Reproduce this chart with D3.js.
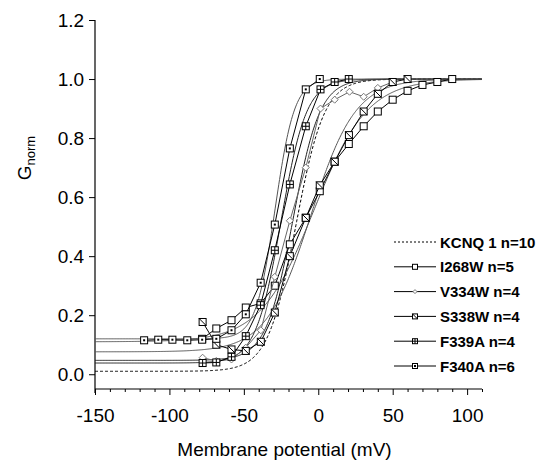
<!DOCTYPE html>
<html>
<head>
<meta charset="utf-8">
<script src="https://cdn.jsdelivr.net/npm/d3@7"></script>
<style>
  body { margin: 0; background: #fff; }
  text { font-family: "Liberation Sans", Arial, sans-serif; }
</style>
</head>
<body>
<script>
// conductance-voltage data
var names = ['KCNQ 1 n=10', 'I268W n=5', 'V334W n=4', 'S338W n=4', 'F339A n=4', 'F340A n=6'];
var markers = ['none', 'square', 'diamond', 'diag', 'cross', 'dot'];

var i268wV = [-78, -68.5, -58.3, -48.7, -38.7, -29.2, -19.1, -8.4, 1, 11, 20.5, 30.5, 40, 50, 60, 70, 80, 90];
var i268wG = [0.12, 0.155, 0.183, 0.226, 0.24, 0.30, 0.44, 0.53, 0.62, 0.72, 0.78, 0.84, 0.89, 0.93, 0.96, 0.98, 0.99, 1.0];
var v334wV = [-77.7, -68.5, -58.3, -48.7, -38.6, -29.2, -19.1, -8.4, 1.5, 11, 21, 30.5, 40, 50];
var v334wG = [0.056, 0.045, 0.05, 0.09, 0.149, 0.33, 0.52, 0.70, 0.90, 0.93, 0.957, 0.94, 0.97, 0.99];
var s338wV = [-77.7, -68.5, -58.3, -48.7, -38.6, -29.2, -19.1, -8.4, 1, 11, 20.6, 30.5, 40, 50, 60];
var s338wG = [0.177, 0.10, 0.084, 0.079, 0.11, 0.209, 0.40, 0.53, 0.64, 0.72, 0.81, 0.89, 0.95, 0.99, 1.0];
var f339aV = [-77.7, -68.5, -58.3, -48.7, -38.8, -29.2, -19.1, -8.4, 1.5, 11, 20.5];
var f339aG = [0.038, 0.04, 0.059, 0.129, 0.234, 0.42, 0.643, 0.84, 0.965, 0.99, 1.0];
var f340aV = [-117, -107.5, -98, -88, -78, -68.5, -58.3, -48.7, -38.7, -29.2, -19.1, -8.4, 1];
var f340aG = [0.115, 0.117, 0.117, 0.115, 0.117, 0.12, 0.149, 0.203, 0.31, 0.507, 0.765, 0.965, 1.0];

// Boltzmann fit parameters (bottom, top, V1/2, slope) per series, same order as names
var fitBottom = [0.01, 0.11, 0.047, 0.076, 0.038, 0.12];
var fitTop = [1.0, 1.0, 1.0, 1.0, 1.0, 1.0];
var fitHalf = [-15, -3, -17, -5, -25, -29];
var fitSlope = [9.5, 18, 9, 15, 8.5, 6.5];

var xTicks = [-150, -100, -50, 0, 50, 100];
var yTicks = [0, 0.2, 0.4, 0.6, 0.8, 1.0, 1.2];

var pts = [
  [],
  d3.zip(i268wV, i268wG),
  d3.zip(v334wV, v334wG),
  d3.zip(s338wV, s338wG),
  d3.zip(f339aV, f339aG),
  d3.zip(f340aV, f340aG)
];

var W = 552, H = 470;
var x0 = 95, x1 = 482, yTop = 20, yBot = 389;

var x = d3.scaleLinear().domain([-150, 110]).range([x0, x1]);
var y = d3.scaleLinear().domain([-0.05, 1.2]).range([yBot, yTop]);

var svg = d3.select('body').append('svg')
    .attr('width', W)
    .attr('height', H);

svg.append('rect').attr('width', W).attr('height', H).attr('fill', '#fff');

// axes
var xAxis = d3.axisBottom(x).tickValues(xTicks).tickSize(6).tickFormat(function (d) { return String(d); });
var xMinor = d3.axisBottom(x).tickValues(d3.range(-140, 111, 10).filter(function (d) { return d % 50 !== 0; }))
    .tickSize(3).tickFormat('');
var yAxis = d3.axisLeft(y).tickValues(yTicks).tickSize(6).tickFormat(d3.format('.1f'));

var gx = svg.append('g').attr('transform', 'translate(0,' + yBot + ')').call(xAxis);
svg.append('g').attr('transform', 'translate(0,' + yBot + ')').call(xMinor)
    .call(function (g) { g.select('.domain').remove(); });
var gy = svg.append('g').attr('transform', 'translate(' + x0 + ',0)').call(yAxis);

svg.selectAll('.domain').attr('stroke', '#000').attr('stroke-width', 1.2);
svg.selectAll('.tick line').attr('stroke', '#000');
gx.selectAll('.domain').attr('d', 'M' + x0 + ',0H' + x1);
gy.selectAll('.domain').attr('d', 'M0,' + (yBot + 4) + 'V' + yTop);
gx.selectAll('text').attr('font-size', 19).attr('dy', '1.25em').attr('fill', '#000');
gy.selectAll('text').attr('font-size', 19).attr('dx', '-0.1em').attr('fill', '#000');

// axis titles
svg.append('text')
    .attr('x', (x0 + x1) / 2 - 4).attr('y', 456)
    .attr('text-anchor', 'middle').attr('font-size', 19)
    .text('Membrane potential (mV)');

var yl = svg.append('text')
    .attr('transform', 'translate(31,158) rotate(-90)')
    .attr('text-anchor', 'middle').attr('font-size', 19);
yl.append('tspan').text('G');
yl.append('tspan').attr('font-size', 13).attr('dy', 4).text('norm');

// fit curves
var plot = svg.append('g');
var line = d3.line().x(function (d) { return x(d[0]); }).y(function (d) { return y(d[1]); });
var grid = d3.range(-150, 110.5, 0.5);

names.forEach(function (n, i) {
  var curve = grid.map(function (v) {
    return [v, fitBottom[i] + (fitTop[i] - fitBottom[i]) / (1 + Math.exp((fitHalf[i] - v) / fitSlope[i]))];
  });
  plot.append('path')
      .attr('d', line(curve))
      .attr('fill', 'none')
      .attr('stroke', i === 0 ? '#000' : (i % 2 ? '#555' : '#222'))
      .attr('stroke-width', 1)
      .attr('stroke-dasharray', i === 0 ? '3,2' : null);
});

// data lines and symbols
function drawMarker(g, type, size, grey) {
  var h = size / 2;
  var col = grey ? '#777' : '#000';
  if (type === 'diamond') {
    g.append('path').attr('d', 'M0,' + (-h) + 'L' + h + ',0L0,' + h + 'L' + (-h) + ',0Z')
        .attr('fill', '#fff').attr('stroke', col).attr('stroke-width', 1);
    return;
  }
  g.append('rect').attr('x', -h).attr('y', -h).attr('width', size).attr('height', size)
      .attr('fill', '#fff').attr('stroke', col).attr('stroke-width', 1);
  if (type === 'dot') {
    g.append('rect').attr('x', -1).attr('y', -1).attr('width', 2).attr('height', 2).attr('fill', '#000');
  } else if (type === 'cross') {
    g.append('path').attr('d', 'M0,' + (-h) + 'V' + h + 'M' + (-h) + ',0H' + h)
        .attr('stroke', col).attr('stroke-width', 1);
  } else if (type === 'diag') {
    g.append('path').attr('d', 'M' + (-h) + ',' + (-h) + 'L' + h + ',' + h)
        .attr('stroke', col).attr('stroke-width', 1);
  }
}

pts.forEach(function (p, i) {
  if (!p.length) return;
  plot.append('path')
      .attr('d', line(p))
      .attr('fill', 'none')
      .attr('stroke', i === 2 ? '#666' : '#000')
      .attr('stroke-width', 1);
  plot.selectAll('.m' + i)
    .data(p)
    .enter()
    .append('g')
      .attr('transform', function (d) { return 'translate(' + x(d[0]) + ',' + y(d[1]) + ')'; })
      .each(function () { drawMarker(d3.select(this), markers[i], 7, i === 2); });
});

// legend
var leg = svg.append('g');
names.forEach(function (n, i) {
  var ly = 242 + i * 24.8;
  leg.append('line').attr('x1', 394).attr('x2', 436).attr('y1', ly).attr('y2', ly)
      .attr('stroke', '#000').attr('stroke-width', 1)
      .attr('stroke-dasharray', i === 0 ? '2,2' : null);
  if (i > 0) {
    var g = leg.append('g').attr('transform', 'translate(415,' + ly + ')');
    drawMarker(g, markers[i], i === 2 ? 4 : 5, i === 2);
  }
  leg.append('text').attr('x', 440).attr('y', ly + 5.5)
      .attr('font-size', 15).attr('font-weight', 'bold').text(n);
});
</script>
</body>
</html>
